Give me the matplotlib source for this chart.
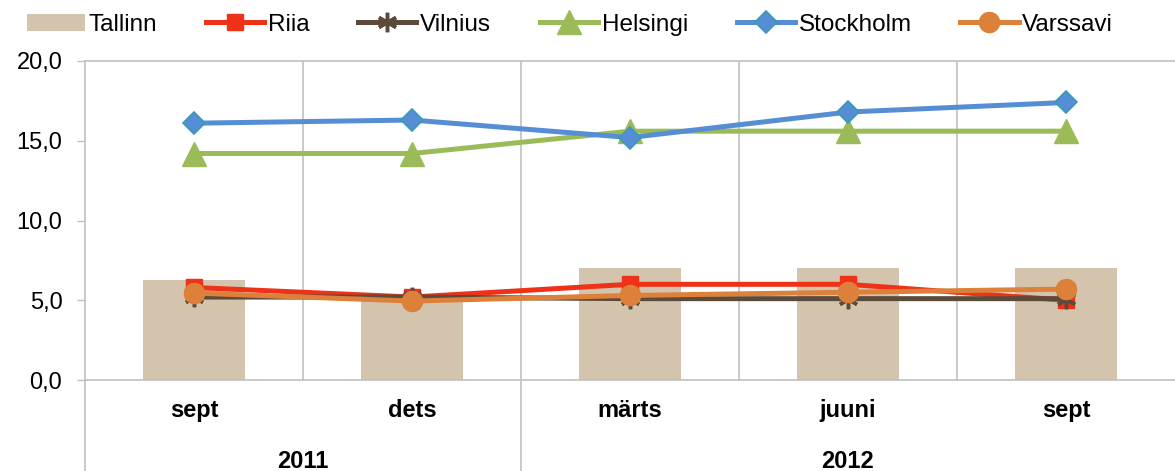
import matplotlib
matplotlib.use("Agg")
import matplotlib.pyplot as plt
from matplotlib.ticker import FuncFormatter

plt.rcParams['font.family'] = ['Liberation Sans', 'DejaVu Sans']

# data
months = ['sept', 'dets', 'märts', 'juuni', 'sept']
years = ['2011', '2012']
tallinn = [6.3, 5.0, 7.0, 7.0, 7.0]
riia = [5.8, 5.2, 6.0, 6.0, 5.0]
vilnius = [5.2, 5.2, 5.1, 5.1, 5.1]
helsingi = [14.2, 14.2, 15.6, 15.6, 15.6]
stockholm = [16.1, 16.3, 15.2, 16.8, 17.4]
varssavi = [5.45, 4.95, 5.3, 5.5, 5.7]

grid_col = '#C0C0C0'
x = list(range(len(months)))

fig = plt.figure(figsize=(11.75, 4.71), dpi=100)
ax = fig.add_axes([85 / 1175, 91 / 471, 1 - 85 / 1175, 319 / 471])

bars = ax.bar(x, tallinn, width=0.47, color='#D4C4AE', label='Tallinn', zorder=2)
l1, = ax.plot(x, riia, color='#EE3117', lw=3.6, marker='s', ms=11, mec='#EE3117',
              label='Riia', zorder=3)
l2, = ax.plot(x, vilnius, color='#5C4A3A', lw=3.6, marker=(6, 2, 0), ms=14, mew=2.5,
              mec='#5C4A3A', label='Vilnius', zorder=3)
l3, = ax.plot(x, helsingi, color='#9BBB59', lw=3.6, marker='^', ms=17, mec='#9BBB59',
              label='Helsingi', zorder=3)
l4, = ax.plot(x, stockholm, color='#558ED5', lw=3.6, marker='D', ms=11.5, mec='#3B9AB2',
              mew=1.2, label='Stockholm', zorder=4)
l5, = ax.plot(x, varssavi, color='#DC803A', lw=3.6, marker='o', ms=14.5, mec='#DC803A',
              label='Varssavi', zorder=4)

ax.set_xlim(-0.5, len(months) - 0.5)
ax.set_ylim(0, 20)
ax.set_yticks([0, 5, 10, 15, 20])
ax.yaxis.set_major_formatter(FuncFormatter(lambda v, p: f'{v:.1f}'.replace('.', ',')))
ax.tick_params(axis='y', labelsize=17, length=5.8, width=1, color=grid_col, pad=10.5)

# category boundaries as vertical gridlines
for b in [0.5, 1.5, 2.5, 3.5]:
    ax.axvline(b, color=grid_col, lw=1.2, zorder=1)

ax.set_xticks(x)
ax.set_xticklabels(months, fontsize=17, fontweight='bold')
ax.tick_params(axis='x', length=0, pad=14)

ax.spines['right'].set_visible(False)
for s in ['left', 'bottom', 'top']:
    ax.spines[s].set_color(grid_col)
    ax.spines[s].set_linewidth(1.2)

# year group separators below the axis
tr = ax.get_xaxis_transform()
for b in [-0.5, 1.5]:
    ax.plot([b, b], [0, -0.3], color=grid_col, lw=1.2, transform=tr, clip_on=False)
ax.text(0.5, -0.255, years[0], transform=tr, ha='center', va='center',
        fontsize=17, fontweight='bold')
ax.text(3.0, -0.255, years[1], transform=tr, ha='center', va='center',
        fontsize=17, fontweight='bold')

handles = [bars, l1, l2, l3, l4, l5]
labels = ['Tallinn', 'Riia', 'Vilnius', 'Helsingi', 'Stockholm', 'Varssavi']
fig.legend(handles, labels, loc='center', bbox_to_anchor=(0.485, 0.947), ncol=6,
           frameon=False, fontsize=17.5, handlelength=2.4, columnspacing=2.0,
           handletextpad=0.15)

fig.savefig('out.png', dpi=100)
